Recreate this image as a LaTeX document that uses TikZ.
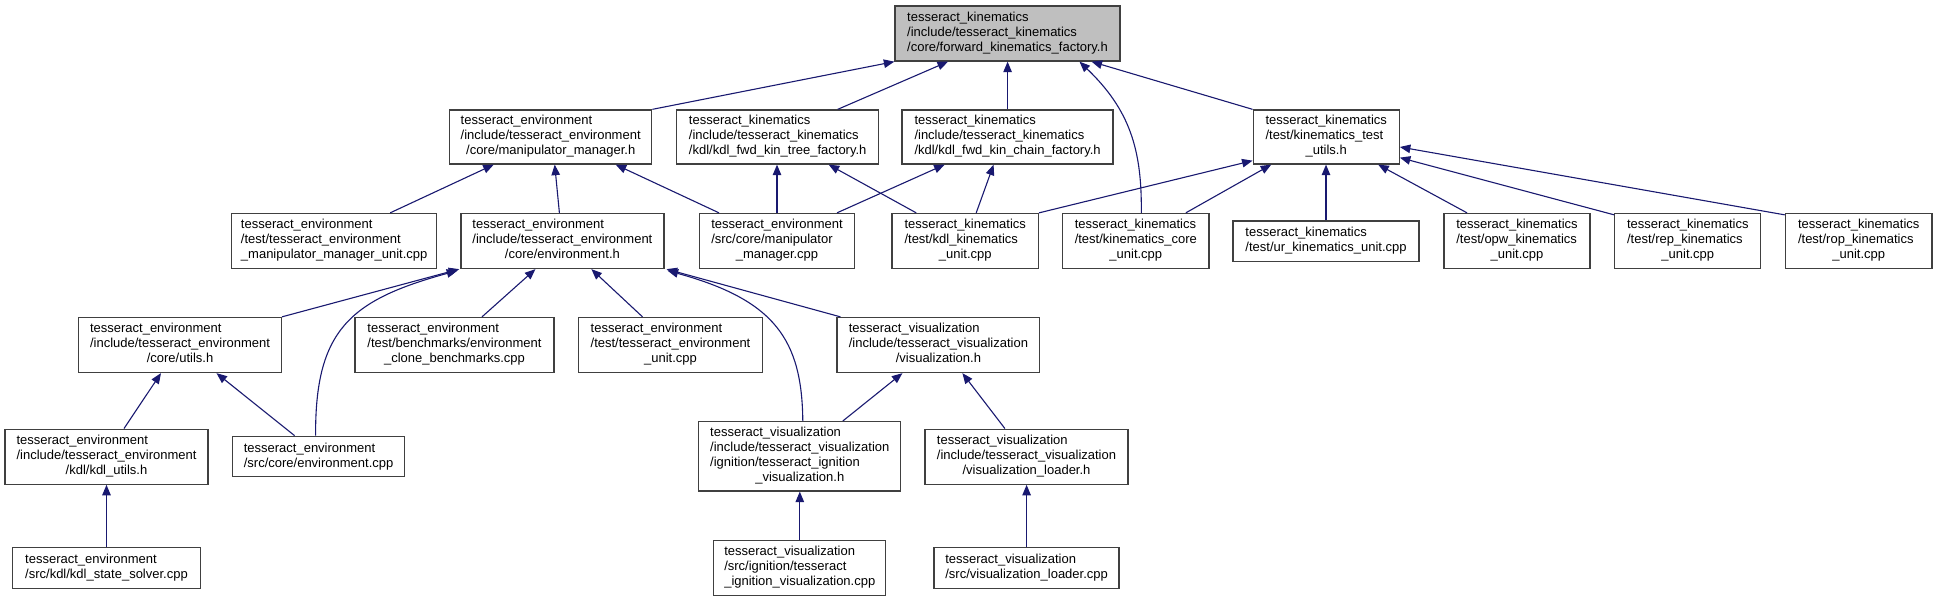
\documentclass[tikz,border=0pt]{standalone}
\usepackage{fontspec}
\setmainfont{Liberation Sans}
\usetikzlibrary{arrows.meta}
\definecolor{edgec}{HTML}{191970}
\definecolor{boxc}{HTML}{404040}
\definecolor{rootfill}{HTML}{BFBFBF}
\newcommand{\lbl}[2]{\begin{tabular}{@{}l@{}}#1\\\multicolumn{1}{@{}c@{}}{#2}\end{tabular}}
\begin{document}
\begin{tikzpicture}[x=1pt,y=-1pt,
  box/.style={draw=boxc, line width=1.3pt, fill=white, inner sep=0pt, rectangle,
    font=\fontsize{13}{15}\selectfont},
  rootbox/.style={box, fill=rootfill},
  edge/.style={draw=edgec, line width=1.1pt, -{Triangle[length=10.5pt,width=8.5pt]}},
]
\fill[white] (0,0) rectangle (1937,601);
\useasboundingbox (0,0) rectangle (1937,601);

% row 0
\node[rootbox, minimum width=225pt, minimum height=55pt] (root) at (1007.5,33.5)
  {\lbl{tesseract\_kinematics\\/include/tesseract\_kinematics}{/core/forward\_kinematics\_factory.h}};
% row 1
\node[box, minimum width=202pt, minimum height=54pt] (manip) at (550.7,137)
  {\lbl{tesseract\_environment\\/include/tesseract\_environment}{/core/manipulator\_manager.h}};
\node[box, minimum width=202pt, minimum height=54pt] (tree) at (777.7,137)
  {\lbl{tesseract\_kinematics\\/include/tesseract\_kinematics}{/kdl/kdl\_fwd\_kin\_tree\_factory.h}};
\node[box, minimum width=211pt, minimum height=54pt] (chain) at (1007.6,137)
  {\lbl{tesseract\_kinematics\\/include/tesseract\_kinematics}{/kdl/kdl\_fwd\_kin\_chain\_factory.h}};
\node[box, minimum width=146pt, minimum height=54pt] (tutils) at (1326.2,137)
  {\lbl{tesseract\_kinematics\\/test/kinematics\_test}{\_utils.h}};
% row 2
\node[box, minimum width=205pt, minimum height=55pt] (mmunit) at (334.2,241)
  {\lbl{tesseract\_environment\\/test/tesseract\_environment}{\_manipulator\_manager\_unit.cpp}};
\node[box, minimum width=203pt, minimum height=55pt] (env) at (562.4,241)
  {\lbl{tesseract\_environment\\/include/tesseract\_environment}{/core/environment.h}};
\node[box, minimum width=155pt, minimum height=55pt] (mmcpp) at (777,241)
  {\lbl{tesseract\_environment\\/src/core/manipulator}{\_manager.cpp}};
\node[box, minimum width=146.4pt, minimum height=55pt] (kdlunit) at (965.2,241)
  {\lbl{tesseract\_kinematics\\/test/kdl\_kinematics}{\_unit.cpp}};
\node[box, minimum width=146.5pt, minimum height=55pt] (kcore) at (1135.8,241)
  {\lbl{tesseract\_kinematics\\/test/kinematics\_core}{\_unit.cpp}};
\node[box, minimum width=186pt, minimum height=40.7pt] (ur) at (1326,241.3)
  {\lbl{tesseract\_kinematics}{/test/ur\_kinematics\_unit.cpp}};
\node[box, minimum width=146pt, minimum height=55pt] (opw) at (1517,241)
  {\lbl{tesseract\_kinematics\\/test/opw\_kinematics}{\_unit.cpp}};
\node[box, minimum width=146pt, minimum height=55pt] (rep) at (1687.8,241)
  {\lbl{tesseract\_kinematics\\/test/rep\_kinematics}{\_unit.cpp}};
\node[box, minimum width=146.7pt, minimum height=55pt] (rop) at (1858.7,241)
  {\lbl{tesseract\_kinematics\\/test/rop\_kinematics}{\_unit.cpp}};
% row 3
\node[box, minimum width=202.7pt, minimum height=55pt] (utils) at (180,345)
  {\lbl{tesseract\_environment\\/include/tesseract\_environment}{/core/utils.h}};
\node[box, minimum width=199pt, minimum height=55pt] (clone) at (454.5,345)
  {\lbl{tesseract\_environment\\/test/benchmarks/environment}{\_clone\_benchmarks.cpp}};
\node[box, minimum width=184pt, minimum height=55pt] (envunit) at (670.5,345)
  {\lbl{tesseract\_environment\\/test/tesseract\_environment}{\_unit.cpp}};
\node[box, minimum width=202.7pt, minimum height=55pt] (vis) at (938.4,345)
  {\lbl{tesseract\_visualization\\/include/tesseract\_visualization}{/visualization.h}};
% row 4
\node[box, minimum width=203pt, minimum height=55pt] (kdlutils) at (106.5,456.7)
  {\lbl{tesseract\_environment\\/include/tesseract\_environment}{/kdl/kdl\_utils.h}};
\node[box, minimum width=172pt, minimum height=40.4pt] (envcpp) at (318.6,456.5)
  {\lbl{tesseract\_environment}{/src/core/environment.cpp}};
\node[box, minimum width=202pt, minimum height=69.3pt] (ignh) at (799.8,456.3)
  {\lbl{tesseract\_visualization\\/include/tesseract\_visualization\\/ignition/tesseract\_ignition}{\_visualization.h}};
\node[box, minimum width=203pt, minimum height=55pt] (vlh) at (1026.5,456.7)
  {\lbl{tesseract\_visualization\\/include/tesseract\_visualization}{/visualization\_loader.h}};
% row 5
\node[box, minimum width=188pt, minimum height=40.6pt] (kss) at (106.5,568)
  {\lbl{tesseract\_environment}{/src/kdl/kdl\_state\_solver.cpp}};
\node[box, minimum width=172pt, minimum height=55pt] (igncpp) at (799.8,567.8)
  {\lbl{tesseract\_visualization\\/src/ignition/tesseract}{\_ignition\_visualization.cpp}};
\node[box, minimum width=185pt, minimum height=40.6pt] (vlcpp) at (1026.6,568)
  {\lbl{tesseract\_visualization}{/src/visualization\_loader.cpp}};

% edges to root
\draw[edge] (manip.north east) -- (root.south west);
\draw[edge] ([xshift=60pt]tree.north) -- ([xshift=-59.5pt]root.south);
\draw[edge] (chain.north) -- (chain.north |- root.south);
\draw[edge] ([xshift=5.5pt]kcore.north) .. controls (1142,150) and (1130,110) .. ([xshift=72pt]root.south);
\draw[edge] (tutils.north west) -- ([xshift=84pt]root.south);
% edges to kinematics_test_utils
\draw[edge] (kdlunit.north east) -- ([yshift=4pt]tutils.south west);
\draw[edge] ([xshift=50pt]kcore.north) -- ([xshift=-55pt]tutils.south);
\draw[edge] (ur.north) -- (ur.north |- tutils.south);
\draw[edge] ([xshift=-50pt]opw.north) -- ([xshift=52pt]tutils.south);
\draw[edge] ([yshift=-2pt]rep.north west) -- ([yshift=7pt]tutils.south east);
\draw[edge] ([yshift=-2pt]rop.north west) -- ([yshift=-10pt]tutils.east);
% edges to manipulator_manager.h
\draw[edge] ([xshift=56pt]mmunit.north) -- ([xshift=-57pt]manip.south);
\draw[edge] ([xshift=-3pt]env.north) -- ([xshift=4pt]manip.south);
\draw[edge] ([xshift=-58pt]mmcpp.north) -- ([xshift=65pt]manip.south);
% edges to tree / chain factory
\draw[edge] (mmcpp.north) -- (mmcpp.north |- tree.south);
\draw[edge] ([xshift=-49pt]kdlunit.north) -- ([xshift=51pt]tree.south);
\draw[edge] ([xshift=60pt]mmcpp.north) -- ([xshift=-63pt]chain.south);
\draw[edge] ([xshift=11pt]kdlunit.north) -- ([xshift=-14pt]chain.south);
% edges to environment.h
\draw[edge] (utils.north east) -- ([xshift=-1pt]env.south west);
\draw[edge] ([xshift=-3pt]envcpp.north) .. controls (315,330) and (350,300) .. ([xshift=-3pt,yshift=-1.5pt]env.south west);
\draw[edge] ([xshift=27.5pt]clone.north) -- ([xshift=-27pt]env.south);
\draw[edge] ([xshift=-28pt]envunit.north) -- ([xshift=29pt]env.south);
\draw[edge] ([xshift=3pt]ignh.north) .. controls (802,340) and (775,300) .. ([xshift=3pt,yshift=-1.5pt]env.south east);
\draw[edge] ([xshift=4pt]vis.north west) -- ([xshift=2pt]env.south east);
% edges to utils.h
\draw[edge] ([xshift=17.5pt]kdlutils.north) -- ([xshift=-19pt]utils.south);
\draw[edge] ([xshift=-24pt]envcpp.north) -- ([xshift=36.5pt]utils.south);
% edges to visualization.h
\draw[edge] ([xshift=43pt]ignh.north) -- ([xshift=-36pt]vis.south);
\draw[edge] ([xshift=-21.6pt]vlh.north) -- ([xshift=24pt]vis.south);
% bottom edges
\draw[edge] (kss.north) -- (kss.north |- kdlutils.south);
\draw[edge] (igncpp.north) -- (igncpp.north |- ignh.south);
\draw[edge] (vlcpp.north) -- (vlcpp.north |- vlh.south);
\end{tikzpicture}
\end{document}
